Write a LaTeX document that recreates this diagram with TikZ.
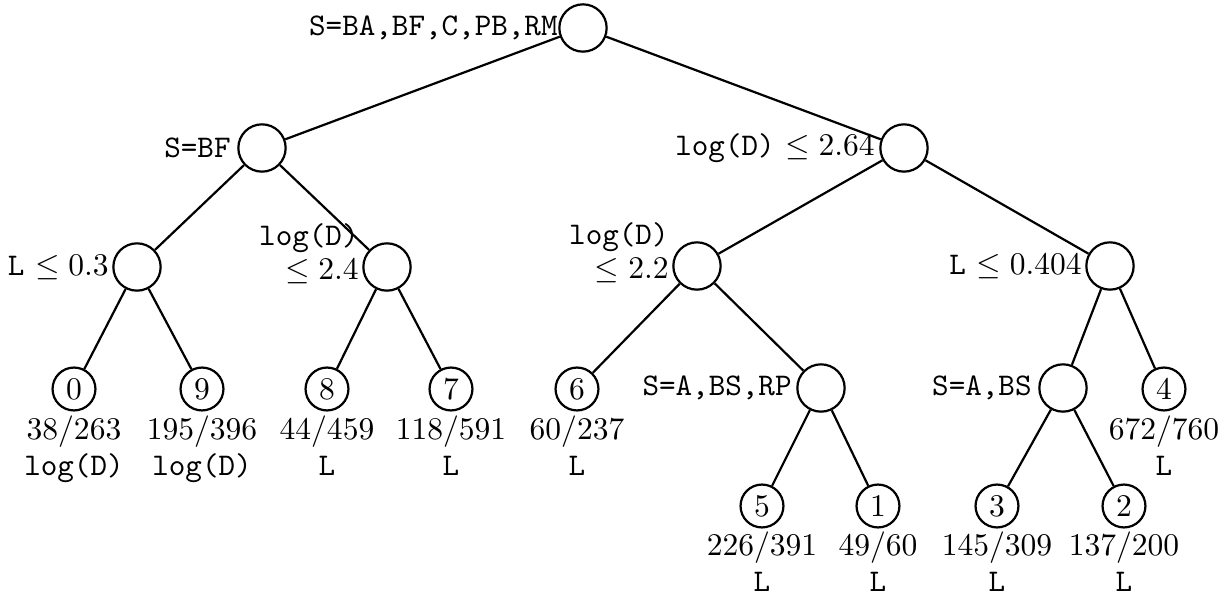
\documentclass[tikz,border=0pt]{standalone}
\usetikzlibrary{calc}
\begin{document}
\begin{tikzpicture}[x=0.317pt,y=-0.317pt,
  inode/.style={circle, draw, line width=0.7pt, minimum size=15pt, inner sep=0pt},
  lnode/.style={circle, draw, line width=0.7pt, minimum size=13.6pt, inner sep=0pt},
  cond/.style={inner sep=0pt},
  cond2/.style={inner sep=0pt, align=right, font=\fontsize{10}{10.8}\selectfont},
  stat/.style={inner sep=0pt, align=center, anchor=north, font=\fontsize{10}{11.3}\selectfont},
  edge/.style={line width=0.7pt}]
\useasboundingbox (0,0) rectangle (1225,602);
% internal nodes
\node[inode] (r)  at (583,28) {};
\node[inode] (a)  at (262,148) {};
\node[inode] (b)  at (904,148) {};
\node[inode] (a1) at (137,267) {};
\node[inode] (a2) at (387,267) {};
\node[inode] (b1) at (697,266) {};
\node[inode] (b2) at (1110,266) {};
\node[inode] (c)  at (821,388) {};
\node[inode] (d)  at (1063,388) {};
% leaves
\node[lnode] (l0) at (74,389) {0};
\node[lnode] (l9) at (202,389) {9};
\node[lnode] (l8) at (327,389) {8};
\node[lnode] (l7) at (451,389) {7};
\node[lnode] (l6) at (577,389) {6};
\node[lnode] (l4) at (1164,389) {4};
\node[lnode] (l5) at (762,506) {5};
\node[lnode] (l1) at (878,506) {1};
\node[lnode] (l3) at (997,506) {3};
\node[lnode] (l2) at (1124,506) {2};
% condition labels
\node[cond, anchor=east] (tr) at ($(r.west)+(0,0)$) {\texttt{S=BA,BF,C,PB,RM}};
\node[cond, anchor=east] (ta) at ($(a.west)+(-6,0)$) {\texttt{S=BF}};
\node[cond, anchor=east] (tb) at ($(b.west)+(-4,0)$) {\texttt{log(D)} $\leq 2.64$};
\node[cond, anchor=east] (ta1) at ($(a1.west)+(-3,0)$) {\texttt{L} $\leq 0.3$};
\node[cond2, anchor=south east] (ta2) at ($(a2.west)+(-3,17)$) {\texttt{log(D)}\\$\leq 2.4$};
\node[cond2, anchor=south east] (tb1) at ($(b1.west)+(-3,17)$) {\texttt{log(D)}\\$\leq 2.2$};
\node[cond, anchor=east] (tb2) at ($(b2.west)+(-3,0)$) {\texttt{L} $\leq 0.404$};
\node[cond, anchor=east] (tc) at ($(c.west)+(-4,0)$) {\texttt{S=A,BS,RP}};
\node[cond, anchor=east] (td) at ($(d.west)+(-6,0)$) {\texttt{S=A,BS}};
% leaf statistics
\node[stat] (s0) at ($(l0.south)+(0,4)$) {$38/263$\\\texttt{log(D)}};
\node[stat] (s9) at ($(l9.south)+(0,4)$) {$195/396$\\\texttt{log(D)}};
\node[stat] (s8) at ($(l8.south)+(0,4)$) {$44/459$\\\texttt{L}};
\node[stat] (s7) at ($(l7.south)+(0,4)$) {$118/591$\\\texttt{L}};
\node[stat] (s6) at ($(l6.south)+(0,4)$) {$60/237$\\\texttt{L}};
\node[stat] (s4) at ($(l4.south)+(0,4)$) {$672/760$\\\texttt{L}};
\node[stat] (s5) at ($(l5.south)+(0,3)$) {$226/391$\\\texttt{L}};
\node[stat] (s1) at ($(l1.south)+(0,3)$) {$49/60$\\\texttt{L}};
\node[stat] (s3) at ($(l3.south)+(0,3)$) {$145/309$\\\texttt{L}};
\node[stat] (s2) at ($(l2.south)+(0,3)$) {$137/200$\\\texttt{L}};
% edges
\draw[edge] (r) -- (a);
\draw[edge] (r) -- (b);
\draw[edge] (a) -- (a1);
\draw[edge] (a) -- (a2);
\draw[edge] (b) -- (b1);
\draw[edge] (b) -- (b2);
\draw[edge] (a1) -- (l0);
\draw[edge] (a1) -- (l9);
\draw[edge] (a2) -- (l8);
\draw[edge] (a2) -- (l7);
\draw[edge] (b1) -- (l6);
\draw[edge] (b1) -- (c);
\draw[edge] (b2) -- (d);
\draw[edge] (b2) -- (l4);
\draw[edge] (c) -- (l5);
\draw[edge] (c) -- (l1);
\draw[edge] (d) -- (l3);
\draw[edge] (d) -- (l2);
\end{tikzpicture}
\end{document}
